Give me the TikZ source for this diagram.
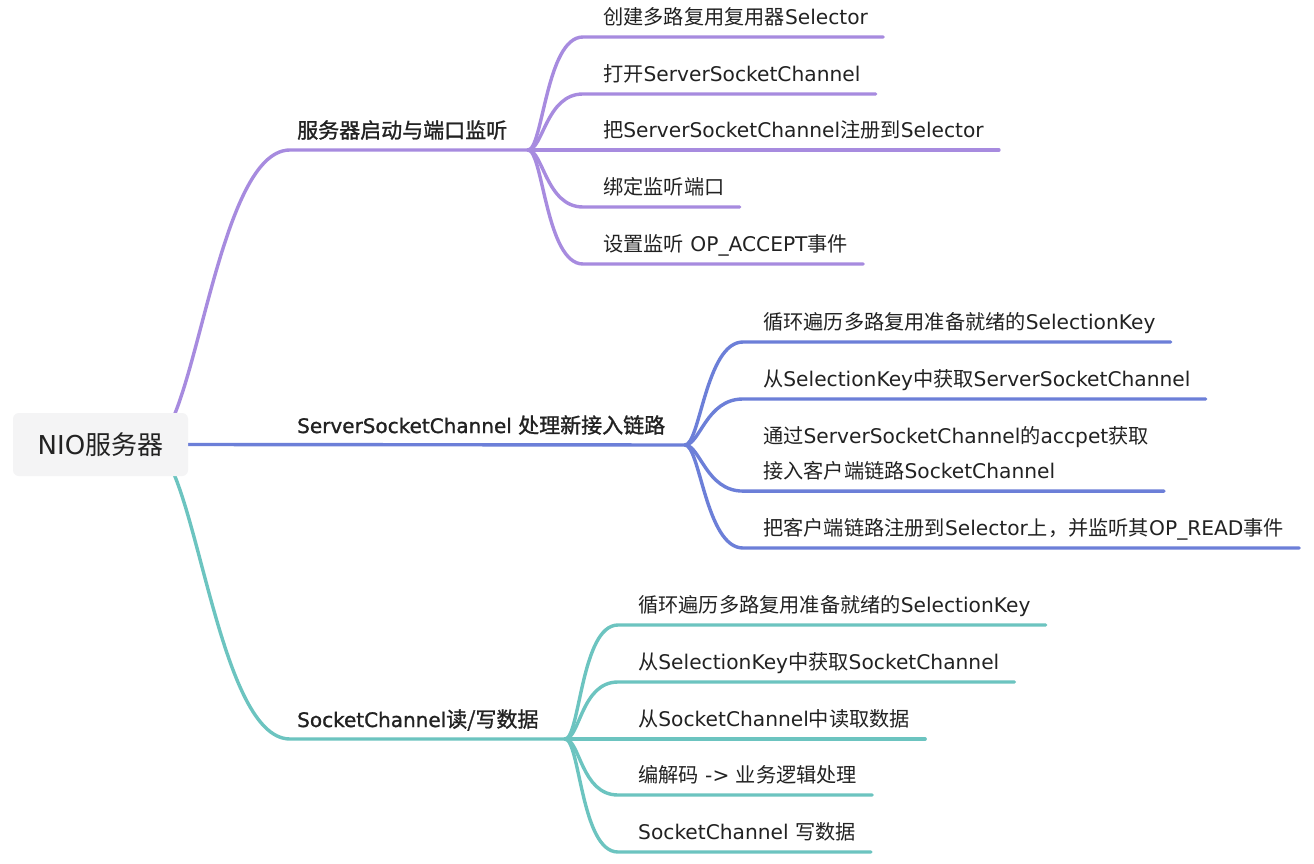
\documentclass[tikz,border=0pt]{standalone}
\usepackage{fontspec}
\setmainfont{DejaVu Sans}
\newfontfamily\cjk{Noto Sans CJK SC}
\newfontfamily\cjkb[FakeBold=1.2]{Noto Sans CJK SC}
\newfontfamily\latb[FakeBold=1.2]{DejaVu Sans}
\newcommand\Cr[1]{{\cjk #1}}
\newcommand\Cb[1]{{\fontsize{21}{25}\selectfont\cjkb #1}}
\usetikzlibrary{backgrounds,calc}
\definecolor{cpur}{HTML}{A78BDF}
\definecolor{cblu}{HTML}{6C7FD8}
\definecolor{ctea}{HTML}{6CC4C0}
\definecolor{ctxt}{HTML}{222222}
\definecolor{croot}{HTML}{F4F4F5}
\begin{document}
\begin{tikzpicture}[x=1pt,y=-1pt,
  conn/.style={line width=3.4pt, line cap=round},
  leaf/.style={anchor=base west, inner sep=0pt, text=ctxt, font=\fontsize{20.2}{24}\selectfont},
  lab/.style={anchor=base west, inner sep=0pt, text=ctxt, font=\fontsize{20}{25}\selectfont\latb},
  rootbox/.style={fill=croot, rounded corners=6pt, minimum width=175pt, minimum height=63pt, inner sep=0pt, text=ctxt, font=\fontsize{26}{30}\selectfont}]
\useasboundingbox (0,0) rectangle (1314,864);

% root
\node[rootbox] (root) at (100.5,444.5) {NIO\Cr{服务器}};

% branch labels
\node[lab] (l1) at (297,138) {\Cb{服务器启动与端口监听}};
\node[lab] (l2) at (297,433) {ServerSocketChannel \Cb{处理新接入链路}};
\node[lab] (l3) at (297,727) {SocketChannel\Cb{读/写数据}};

% junctions and hidden start points
\coordinate (r1) at (150,445);
\coordinate (r3) at (150,445);
\coordinate (b1s) at (290,150);
\coordinate (b3s) at (290,739);
\coordinate (b1j) at (528,150);
\coordinate (b2j) at (685,445);
\coordinate (b3j) at (565,739);

% branch 1 leaves
\node[leaf] (n11) at (603,24.5) {\Cr{创建多路复用复用器}Selector};
\node[leaf] (n12) at (603,81.5) {\Cr{打开}ServerSocketChannel};
\node[leaf] (n13) at (603,137.5) {\Cr{把}ServerSocketChannel\Cr{注册到}Selector};
\node[leaf] (n14) at (603,194.5) {\Cr{绑定监听端口}};
\node[leaf] (n15) at (603,251.5) {\Cr{设置监听} OP\_ACCEPT\Cr{事件}};

% branch 2 leaves
\node[leaf] (n21) at (763,329.5) {\Cr{循环遍历多路复用准备就绪的}SelectionKey};
\node[leaf] (n22) at (763,386.5) {\Cr{从}SelectionKey\Cr{中获取}ServerSocketChannel};
\node[leaf, anchor=west, align=left, font=\fontsize{20.2}{35}\selectfont] (n23) at (763,453)
  {\Cr{通过}ServerSocketChannel\Cr{的}accpet\Cr{获取}\\\Cr{接入客户端链路}SocketChannel};
\node[leaf] (n24) at (763,535.5) {\Cr{把客户端链路注册到}Selector\Cr{上，并监听其}OP\_READ\Cr{事件}};

% branch 3 leaves
\node[leaf] (n31) at (638,612.5) {\Cr{循环遍历多路复用准备就绪的}SelectionKey};
\node[leaf] (n32) at (638,669.5) {\Cr{从}SelectionKey\Cr{中获取}SocketChannel};
\node[leaf] (n33) at (638,726.5) {\Cr{从}SocketChannel\Cr{中读取数据}};
\node[leaf] (n34) at (638,782.5) {\Cr{编解码} -> \Cr{业务逻辑处理}};
\node[leaf] (n35) at (638,839.5) {SocketChannel \Cr{写数据}};

% underline coordinates
\foreach \n in {11,12,13,14,15,21,22,24,31,32,33,34,35}{
  \coordinate (u\n) at ($(n\n.base west)+(-20,12.5)$);
  \coordinate (v\n) at ($(n\n.base east)+(15,12.5)$);
}
\coordinate (u23) at ($(n23.south west)+(-20,11)$);
\coordinate (v23) at ($(n23.south east)+(15,11)$);

\begin{pgfonlayer}{background}
\fill[white] (0,0) rectangle (1314,864);
% root to branches
\draw[conn,cpur] (r1) .. controls (195,445) and (215,150) .. (b1s) -- (b1j);
\draw[conn,cblu] (root.east) -- (b2j);
\draw[conn,ctea] (r3) .. controls (195,445) and (215,739) .. (b3s) -- (b3j);
% branch 1 children
\foreach \n in {11,12,13,14,15}
  \draw[conn,cpur] (b1j) .. controls +(15,0) and +(-37,0) .. (u\n) -- (v\n);
% branch 2 children
\foreach \n in {21,22,23,24}
  \draw[conn,cblu] (b2j) .. controls +(15,0) and +(-37,0) .. (u\n) -- (v\n);
% branch 3 children
\foreach \n in {31,32,33,34,35}
  \draw[conn,ctea] (b3j) .. controls +(15,0) and +(-37,0) .. (u\n) -- (v\n);
\end{pgfonlayer}
\end{tikzpicture}
\end{document}
